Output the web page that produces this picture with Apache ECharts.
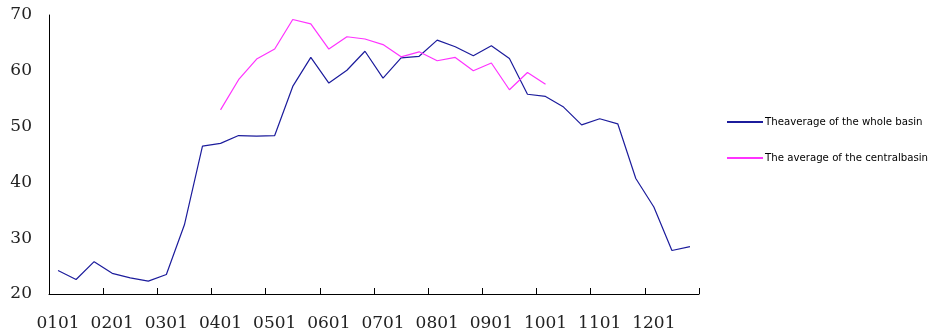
<!DOCTYPE html>
<html><head><meta charset="utf-8">
<script src="https://cdn.jsdelivr.net/npm/echarts@6/dist/echarts.min.js"></script>
<style>html,body{margin:0;padding:0;background:#fff}#c{width:934px;height:334px}</style>
</head><body><div id="c"></div>
<script>
const categories = ['0101','0111','0121','0201','0211','0221','0301','0311','0321','0401','0411','0421',
  '0501','0511','0521','0601','0611','0621','0701','0711','0721','0801','0811','0821',
  '0901','0911','0921','1001','1011','1021','1101','1111','1121','1201','1211','1221'];
const wholeBasin = [24.2,22.6,25.8,23.7,22.9,22.3,23.5,32.4,46.5,47.0,48.4,48.3,
  48.4,57.2,62.4,57.8,60.1,63.5,58.7,62.3,62.6,65.5,64.3,62.7,
  64.5,62.2,55.8,55.4,53.5,50.3,51.4,50.5,40.7,35.6,27.8,28.5];
const centralBasin = [null,null,null,null,null,null,null,null,null,53.0,58.4,62.1,
  63.9,69.2,68.4,63.9,66.1,65.7,64.7,62.5,63.4,61.8,62.4,60.0,
  61.4,56.6,59.7,57.6,null,null,null,null,null,null,null,null];
const seriesNames = ['Theaverage of the whole basin','The average of the centralbasin'];

const chart = echarts.init(document.getElementById('c'), null, {renderer:'canvas'});
chart.setOption({
  animation:false,
  grid:{left:49,right:235,top:15,bottom:40},
  legend:{
    orient:'vertical', left:727, top:117, padding:0, itemWidth:36, itemHeight:2, itemGap:26,
    icon:'rect',
    textStyle:{fontFamily:'DejaVu Sans',fontSize:10.2,color:'#000',padding:[0,0,0,-3]},
    data:seriesNames
  },
  xAxis:{
    type:'category', data:categories, boundaryGap:true,
    axisLine:{lineStyle:{color:'#000',width:1}},
    axisTick:{show:true,inside:true,length:6,interval:2,lineStyle:{color:'#000'}},
    axisLabel:{interval:2,margin:21,fontFamily:'DejaVu Serif',fontSize:17,color:'#222'},
    splitLine:{show:false}
  },
  yAxis:{
    type:'value', min:20, max:70, interval:10,
    axisLine:{show:true,lineStyle:{color:'#000',width:1}},
    axisTick:{show:false},
    axisLabel:{margin:17,fontFamily:'DejaVu Serif',fontSize:17,color:'#222'},
    splitLine:{show:false}
  },
  series:[
    {name:seriesNames[0],type:'line',data:wholeBasin,symbol:'none',
     lineStyle:{color:'#1c1c9c',width:1.2},itemStyle:{color:'#1c1c9c'}},
    {name:seriesNames[1],type:'line',data:centralBasin,symbol:'none',
     lineStyle:{color:'#ff33ff',width:1.2},itemStyle:{color:'#ff33ff'}}
  ]
});
</script></body></html>
